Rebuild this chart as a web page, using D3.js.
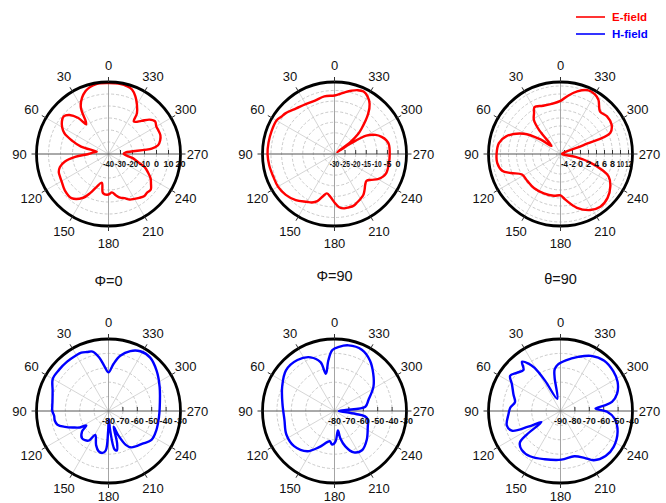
<!DOCTYPE html>
<html>
<head>
<meta charset="utf-8">
<script src="https://cdn.jsdelivr.net/npm/d3@7"></script>
<style>
  body { margin: 0; background: #fff; }
  svg { display: block; font-family: "Liberation Sans", Arial, sans-serif; }
</style>
</head>
<body>
<svg id="chart" width="666" height="503"></svg>
<script>
// ---- Radiation pattern data (angle in degrees, gain in dB) ----
const angleTicks = [0, 30, 60, 90, 120, 150, 180, 210, 240, 270, 300, 330];
const planeTitles = ["\u03A6=0", "\u03A6=90", "\u03B8=90"];
const legendLabels = ["E-field", "H-field"];
const fieldColors = ["#ff0000", "#0000ff"];

// E-field, phi = 0
const ePhi0Domain = [-40, 20];
const ePhi0Ticks = [-40, -30, -20, -10, 0, 10, 20];
const ePhi0Angles = [0,10,20,30,35,37,40,45,50,55,60,65,70,75,79,84,90,95,100,105,110,115,120,130,140,150,155,160,167,172,180,185,190,195,200,205,210,215,220,225,230,235,240,245,250,255,260,265,270,275,277,280,285,290,295,300,305,310,315,322,325,330,335,340,345,350,355];
const ePhi0Gain = [19.2,19.2,15.8,6.3,-7.1,-9,-0.9,6,8.8,7.4,4.6,0.5,-7.9,-16.3,-30,-27.4,-23.3,-12.1,-2.9,1.9,4.1,4.6,5.2,7.4,8,2.1,-4.3,-10.7,-15.4,-7.1,-6.2,-7.9,-5.1,-2.3,-0.9,1.9,3.2,4.6,6,5.5,6,3.2,0.5,-3.7,-7.9,-14.9,-19.1,-24.7,-27.4,-25.5,-3.7,1.9,4.6,6,6,6,7.4,4.6,-0.9,-5.7,1.3,7.4,13,17.2,18.6,19.2,19.2];

// E-field, phi = 90
const ePhi90Domain = [-30, 4];
const ePhi90Ticks = [-30, -25, -20, -15, -10, -5, 0];
const ePhi90Angles = [0,10,20,30,40,50,55,60,70,80,90,100,110,120,130,140,150,155,160,165,169,175,180,185,190,195,200,205,210,215,220,225,230,235,240,245,250,260,270,280,285,290,295,300,303,305,307,310,313,320,325,330,335,340,345,350,355];
const ePhi90Gain = [-2.35,-2.35,-3.14,-2.8,-1.89,0.03,0.71,1.62,1.62,1.62,1.62,1.28,0.83,0.83,0.03,-1.55,-3.93,-4.73,-6.31,-9.49,-11.07,-9.49,-7.11,-4.73,-3.93,-3.93,-3.93,-4.73,-5.52,-6.31,-7.9,-9.49,-10.28,-8.69,-6.31,-4.73,-3.93,-3.93,-3.93,-3.93,-4.73,-6.31,-8.69,-12.66,-20.48,-28.41,-20.48,-15.72,-12.66,-5.29,-1.1,1.28,2.53,2.07,0.94,-0.31,-1.55];

// E-field, theta = 90
const eTheta90Domain = [-5, 13];
const eTheta90Ticks = [-4, -2, 0, 2, 4, 6, 8, 10, 12];
const eTheta90Angles = [0,10,20,29,33,38,42,48,54,61,72,80,90,98,106,111,118,129,142,157,171,180,186,197,208,217,227,237,245,249,254,259,265,285,291,293,300,309,317,325,330,337,345,353];
const eTheta90Gain = [8.28,7.71,7.83,8.39,7.15,5.8,2.76,-1.96,1.19,5.46,9.29,10.64,10.98,10.98,10.19,8.28,5.91,5.69,5.8,5.69,5.58,5.35,6.48,9.06,10.86,11.54,11.09,9.85,8.28,6.14,2.76,-1.18,-4.55,-4.55,1.19,8.5,9.74,9.96,9.51,11.54,12.21,12.33,11.2,9.63];

// H-field, phi = 0
const hPhi0Domain = [-80, -30];
const hPhi0Ticks = [-80, -70, -60, -50, -40, -30];
const hPhi0Angles = [0,5,10,15,20,25,30,40,50,60,70,80,90,95,100,105,110,115,120,123,128,136,146,151,160,166,172,176,179,182,185,189,192,195,198,202,207,212,227,236,248,263,273,295,310,322,332,340,348,354];
const hPhi0Gain = [-53.2,-49,-42.1,-37.3,-36.4,-35.3,-35.3,-35.3,-35.3,-35.3,-38.7,-40.5,-41,-42.1,-42.1,-43.3,-47.9,-52.9,-57.1,-61.6,-56.6,-53.6,-55.2,-61,-54.8,-51.3,-50.6,-52.5,-66.2,-74.3,-66.2,-52.9,-52,-57.1,-68.5,-61.6,-53.6,-50.2,-47,-44,-44.2,-44.7,-44.4,-40.8,-36.4,-33,-33,-35.7,-40.8,-47.2];

// H-field, phi = 90
const hPhi90Domain = [-80, -30];
const hPhi90Ticks = [-80, -70, -60, -50, -40, -30];
const hPhi90Angles = [2,7,13,16,24,36,50,65,82,100,116,131,146,157,171,176,182,190,192,197,205,215,228,245,255,260,262,266,270,275,278,288,302,314,325,336,348,356];
const hPhi90Gain = [-37.6,-44.7,-53.4,-44.7,-39.2,-36.2,-36,-39.9,-43.5,-44.7,-42.8,-42.8,-46.3,-52.7,-58.7,-56.6,-58.9,-66.2,-60.7,-54.3,-48.3,-46.7,-49.9,-54.5,-56,-58.5,-65,-75,-77,-72,-58.4,-55.2,-48.1,-42.6,-37.1,-33.4,-33.4,-35.3];

// H-field, theta = 90
const hTheta90Domain = [-90, -40];
const hTheta90Ticks = [-90, -80, -70, -60, -50, -40];
const hTheta90Angles = [3,8,10,15,27,31,34,38,42,49,55,61,71,79,86,93,105,112,116,120,125,128,135,146,162,181,197,207,214,225,236,250,262,269,274,277,280,287,297,307,319,331,342,354];
const hTheta90Gain = [-57.6,-60.8,-66.5,-81.3,-66.3,-55.1,-50.3,-46.6,-51.6,-49.6,-47.3,-51.4,-55.5,-57.8,-55.1,-53.9,-51.4,-53.5,-65.1,-74.7,-61.2,-54.2,-51.9,-52.1,-54.8,-56.2,-57.1,-53.5,-48.7,-45.7,-45.5,-47.8,-52.1,-57.6,-65.6,-59.6,-53.7,-48.9,-45.5,-44.1,-43.7,-46.2,-50.5,-54.6];

// ---- Panel grid ----
const panels = [
  { angles: ePhi0Angles,    gain: ePhi0Gain,    domain: ePhi0Domain,    ticks: ePhi0Ticks,    field: 0, col: 0, row: 0 },
  { angles: ePhi90Angles,   gain: ePhi90Gain,   domain: ePhi90Domain,   ticks: ePhi90Ticks,   field: 0, col: 1, row: 0 },
  { angles: eTheta90Angles, gain: eTheta90Gain, domain: eTheta90Domain, ticks: eTheta90Ticks, field: 0, col: 2, row: 0 },
  { angles: hPhi0Angles,    gain: hPhi0Gain,    domain: hPhi0Domain,    ticks: hPhi0Ticks,    field: 1, col: 0, row: 1 },
  { angles: hPhi90Angles,   gain: hPhi90Gain,   domain: hPhi90Domain,   ticks: hPhi90Ticks,   field: 1, col: 1, row: 1 },
  { angles: hTheta90Angles, gain: hTheta90Gain, domain: hTheta90Domain, ticks: hTheta90Ticks, field: 1, col: 2, row: 1 }
];

const W = 666, H = 503;
const svg = d3.select("#chart");
const colX = [108.5, 334.5, 560.5];
const rowY = [154, 411];
const titleDy = [127, 122, 125];
const R = 72;
const labelR = 89;
const rad = d => d * Math.PI / 180;
// angles run counter-clockwise from the top
const px = (deg, r) => -r * Math.sin(rad(deg));
const py = (deg, r) => -r * Math.cos(rad(deg));

panels.forEach(p => {
  const cx = colX[p.col], cy = rowY[p.row];
  const g = svg.append("g").attr("transform", `translate(${cx},${cy})`);
  const r = d3.scaleLinear().domain(p.domain).range([0, R]);
  const inner = p.ticks.filter(t => r(t) > 1 && r(t) < R - 1);

  // dashed rings
  g.selectAll("circle.ring").data(inner).join("circle")
    .attr("class", "ring").attr("r", d => r(d))
    .attr("fill", "none").attr("stroke", "#bdbdbd").attr("stroke-width", 0.8)
    .attr("stroke-dasharray", "3,2");

  // spokes every 30 degrees
  g.selectAll("line.spoke").data(angleTicks.filter(a => a % 90 !== 0)).join("line")
    .attr("class", "spoke")
    .attr("x1", 0).attr("y1", 0)
    .attr("x2", d => px(d, R)).attr("y2", d => py(d, R))
    .attr("stroke", "#cccccc").attr("stroke-width", 0.8);

  // vertical 0-180 line
  g.append("line").attr("x1", 0).attr("x2", 0).attr("y1", -R).attr("y2", R)
    .attr("stroke", "#9a9a9a").attr("stroke-width", 0.9);

  // radial axis along 90-270
  g.append("line").attr("x1", -R).attr("x2", R).attr("y1", 0).attr("y2", 0)
    .attr("stroke", "#555").attr("stroke-width", 1);
  g.selectAll("line.rtick").data(p.ticks.filter(t => r(t) > 1)).join("line")
    .attr("class", "rtick")
    .attr("x1", d => r(d)).attr("x2", d => r(d))
    .attr("y1", 0).attr("y2", -4)
    .attr("stroke", "#333").attr("stroke-width", 1);

  // pattern curve
  const line = d3.lineRadial()
    .angle(d => -rad(d[0]))
    .radius(d => r(d[1]))
    .curve(d3.curveCatmullRomClosed.alpha(0.5));
  g.append("path")
    .datum(p.angles.map((a, i) => [a, p.gain[i]]))
    .attr("d", line)
    .attr("fill", "none")
    .attr("stroke", fieldColors[p.field])
    .attr("stroke-width", 2.4)
    .attr("stroke-linejoin", "round");

  // radial tick labels, condensed so neighbours do not run into each other
  const step = r(p.ticks[1]) - r(p.ticks[0]);
  g.selectAll("text.rlabel").data(p.ticks).join("text")
    .attr("class", "rlabel")
    .attr("x", d => r(d)).attr("y", 11)
    .attr("text-anchor", "middle").attr("dominant-baseline", "middle")
    .attr("font-size", 9).attr("font-weight", "bold").attr("fill", "#111")
    .text(d => d)
    .each(function () {
      const w = this.getComputedTextLength();
      const maxW = step - 1;
      if (w > maxW) {
        d3.select(this).attr("textLength", maxW).attr("lengthAdjust", "spacingAndGlyphs");
      }
    });

  // outer ring and angular ticks
  g.append("circle").attr("r", R).attr("fill", "none")
    .attr("stroke", "#000").attr("stroke-width", 2.8);
  g.selectAll("line.atick").data(angleTicks).join("line")
    .attr("class", "atick")
    .attr("x1", d => px(d, R)).attr("y1", d => py(d, R))
    .attr("x2", d => px(d, R + 5)).attr("y2", d => py(d, R + 5))
    .attr("stroke", "#333").attr("stroke-width", 1);

  // angle labels, kept inside the drawing area
  g.selectAll("text.alabel").data(angleTicks).join("text")
    .attr("class", "alabel")
    .attr("x", d => px(d, labelR))
    .attr("y", d => Math.min(py(d, labelR), H - 7 - cy))
    .attr("text-anchor", "middle").attr("dominant-baseline", "central")
    .attr("font-size", 13).attr("fill", "#111")
    .text(d => d);

  if (p.row === 0) {
    svg.append("text")
      .attr("x", cx).attr("y", cy + titleDy[p.col])
      .attr("text-anchor", "middle").attr("dominant-baseline", "central")
      .attr("font-size", 14.5).attr("fill", "#111")
      .text(planeTitles[p.col]);
  }
});

// legend
const legend = svg.append("g").attr("transform", "translate(576,17)");
legendLabels.forEach((lab, i) => {
  const row = legend.append("g").attr("transform", `translate(0,${i * 17})`);
  row.append("line").attr("x1", 0).attr("x2", 29).attr("y1", 0).attr("y2", 0)
    .attr("stroke", fieldColors[i]).attr("stroke-width", 1.6);
  row.append("text").attr("x", 36).attr("y", 0)
    .attr("dominant-baseline", "central")
    .attr("font-size", 11.5).attr("font-weight", "bold")
    .attr("fill", fieldColors[i]).text(lab);
});
</script>
</body>
</html>
